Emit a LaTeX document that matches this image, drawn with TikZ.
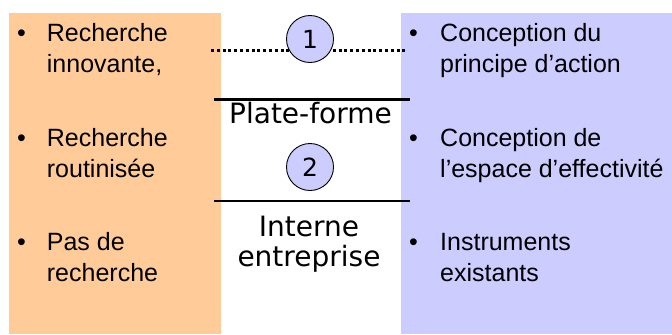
\documentclass[tikz,border=0pt]{standalone}
\usepackage{fontspec}
\setmainfont{Liberation Sans}
\newfontfamily\comicfont{DejaVu Sans}
\definecolor{orangebox}{RGB}{255,204,153}
\definecolor{lilac}{RGB}{204,204,255}
\begin{document}
\begin{tikzpicture}[x=1bp,y=-1bp,
  panel/.style={anchor=north west,inner sep=0pt,outer sep=0pt},
  item/.style={anchor=north west,inner sep=0pt,align=left,font=\fontsize{25bp}{31bp}\selectfont},
  bul/.style={anchor=north,inner sep=0pt,font=\fontsize{25bp}{31bp}\selectfont},
  mid/.style={inner sep=0pt,align=center,font=\comicfont\fontsize{28bp}{28bp}\selectfont},
  num/.style={circle,draw=black,line width=0.9bp,fill=lilac,minimum size=47bp,inner sep=0pt,font=\comicfont\fontsize{25bp}{25bp}\selectfont},
  sepline/.style={line width=2.4bp},
  dotline/.style={line width=3bp,dash pattern=on 3bp off 2.8bp}]
\useasboundingbox (0,0) rectangle (672,334);
% panels
\node[panel,fill=orangebox,minimum width=212bp,minimum height=321bp] (left) at (9,13) {};
\node[panel,fill=lilac,minimum width=271bp,minimum height=321bp] (right) at (401,13) {};
% separators
\coordinate (d1) at (211,50);
\coordinate (d2) at (406,50);
\draw[dotline] (d1) -- (d2);
\coordinate (s1a) at (214,99.5);
\coordinate (s1b) at (410,99.5);
\draw[sepline] (s1a) -- (s1b);
\coordinate (s2a) at (214,201);
\coordinate (s2b) at (410,201);
\draw[sepline] (s2a) -- (s2b);
% circles
\node[num] (n1) at (310,39) {1};
\node[num] (n2) at (310,167) {2};
% middle labels
\node[mid,anchor=base] (plat) at (310.5,123) {Plate-forme};
\node[mid,anchor=north] (intern) at (309,215.4) {\strut Interne\\entreprise};
% left items
\node[bul] (lb1) at (21.5,20) {\strut\textbullet};
\node[item] (lt1) at (46.7,20) {\strut Recherche\\innovante,};
\node[bul] (lb2) at (21.5,124.3) {\strut\textbullet};
\node[item] (lt2) at (46.7,124.3) {\strut Recherche\\routinisée};
\node[bul] (lb3) at (21.5,228.3) {\strut\textbullet};
\node[item] (lt3) at (46.7,228.3) {\strut Pas de\\recherche};
% right items
\node[bul] (rb1) at (413.5,20) {\strut\textbullet};
\node[item] (rt1) at (440,20) {\strut Conception du\\principe d’action};
\node[bul] (rb2) at (413.5,124.3) {\strut\textbullet};
\node[item] (rt2) at (440,124.3) {\strut Conception de\\l’espace d’effectivité};
\node[bul] (rb3) at (413.5,228.3) {\strut\textbullet};
\node[item] (rt3) at (440,228.3) {\strut Instruments\\existants};
\end{tikzpicture}
\end{document}
